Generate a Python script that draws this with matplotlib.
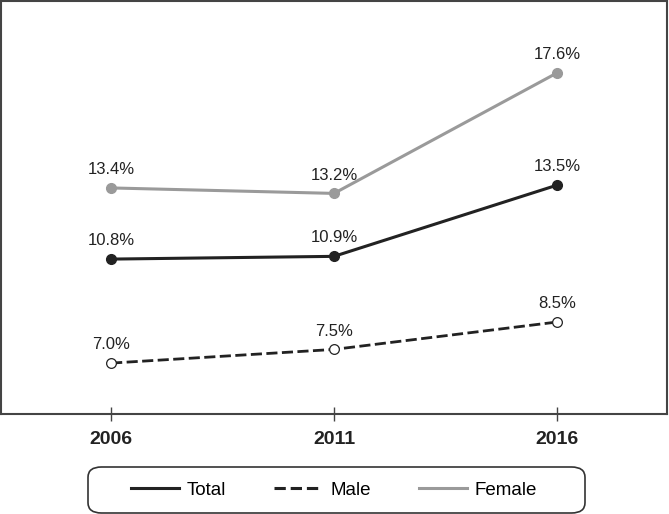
import numpy as np
import matplotlib.pyplot as plt
from matplotlib.patches import FancyBboxPatch

plt.rcParams['font.family'] = ['Liberation Sans', 'DejaVu Sans']

years = [2006, 2011, 2016]
total = [10.8, 10.9, 13.5]
male = [7.0, 7.5, 8.5]
female = [13.4, 13.2, 17.6]

fig = plt.figure(figsize=(6.69, 5.14), dpi=100)
ax = fig.add_axes([1 / 669, 100 / 514, 666 / 669, 413 / 514])

ax.plot(years, female, color='#9a9a9a', lw=2.2, marker='o', ms=7,
        mfc='#9a9a9a', mec='#9a9a9a', label='Female', zorder=3)
ax.plot(years, total, color='#222222', lw=2.2, marker='o', ms=7,
        mfc='#222222', mec='#222222', label='Total', zorder=3)
ax.plot(years, male, color='#222222', lw=2.0, ls=(0, (4, 1.6)), marker='o',
        ms=7, mfc='white', mec='#222222', mew=0.9, label='Male', zorder=3)

for series in (total, male, female):
    for x, y in zip(years, series):
        ax.annotate('%.1f%%' % y, (x, y), xytext=(0, 10), textcoords='offset points',
                    ha='center', va='baseline', fontsize=12, color='#222222')

ax.set_xlim(2003.53, 2018.47)
ax.set_ylim(5.14, 20.23)
ax.set_xticks(years)
ax.set_xticklabels([str(y) for y in years], fontsize=14, fontweight='bold', color='#222222')
ax.tick_params(axis='x', direction='inout', length=10, width=1, color='#444444', pad=7)
ax.set_yticks([])
for s in ax.spines.values():
    s.set_color('#444444')
    s.set_linewidth(1.5)

# legend box
box = FancyBboxPatch((88 / 669, 1 - 513 / 514), (585 - 88) / 669, 46 / 514,
                     boxstyle='round,pad=0,rounding_size=0.02', transform=fig.transFigure,
                     facecolor='white', edgecolor='#333333', lw=1.2)
fig.patches.append(box)

h, l = ax.get_legend_handles_labels()
order = [1, 2, 0]
h2 = [plt.Line2D([], [], color=h[i].get_color(), lw=2.2, ls=h[i].get_linestyle()) for i in order]
leg = fig.legend(h2, [l[i] for i in order], loc='center', bbox_to_anchor=(334 / 669, 1 - 490 / 514),
                 ncol=3, fontsize=13.5, frameon=False,
                 handlelength=2.55, columnspacing=2.55, handletextpad=0.45)

fig.savefig('out.png', dpi=100)
